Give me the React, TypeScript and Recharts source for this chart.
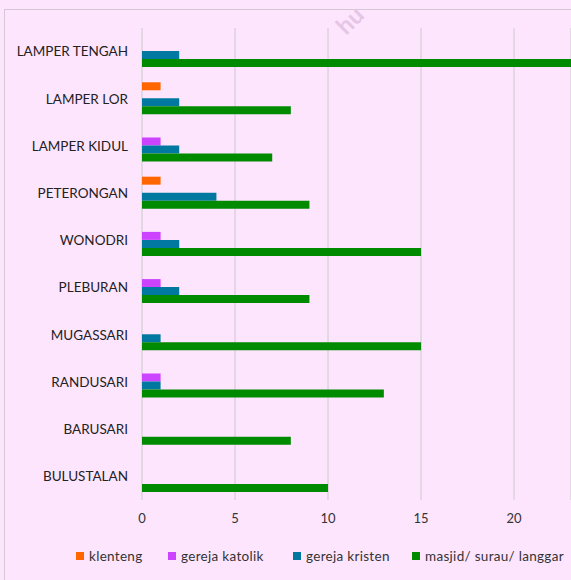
import { BarChart, Bar, XAxis, YAxis, CartesianGrid } from 'recharts';

const kelurahan = [
  'LAMPER TENGAH',
  'LAMPER LOR',
  'LAMPER KIDUL',
  'PETERONGAN ',
  'WONODRI',
  'PLEBURAN',
  'MUGASSARI',
  'RANDUSARI',
  'BARUSARI',
  'BULUSTALAN',
];
const klenteng = [0, 1, 0, 1, 0, 0, 0, 0, 0, 0];
const gerejaKatolik = [0, 0, 1, 0, 1, 1, 0, 1, 0, 0];
const gerejaKristen = [2, 2, 2, 4, 2, 2, 1, 1, 0, 0];
const masjid = [25, 8, 7, 9, 15, 9, 15, 13, 8, 10];
const xTicks = [0, 5, 10, 15, 20];

const series = [
  { key: 'klenteng', name: 'klenteng', color: '#ff6600', w: 92 },
  { key: 'katolik', name: 'gereja katolik', color: '#cc44ff', w: 125 },
  { key: 'kristen', name: 'gereja kristen', color: '#0078a0', w: 119 },
  { key: 'masjid', name: 'masjid/ surau/ langgar', color: '#008a00', w: 158 },
];

const data = kelurahan.map((name, i) => ({
  name,
  klenteng: klenteng[i],
  katolik: gerejaKatolik[i],
  kristen: gerejaKristen[i],
  masjid: masjid[i],
}));

const font = 'Lato, "Open Sans", sans-serif';

export default function App() {
  return (
    <div
      style={{
        position: 'fixed',
        left: 0,
        top: 0,
        width: 571,
        height: 580,
        background: '#fee5fe',
        overflow: 'hidden',
        fontFamily: font,
      }}
    >
      {/* chart area frame */}
      <div
        style={{
          position: 'absolute',
          left: 4,
          top: 9,
          width: 600,
          height: 600,
          borderLeft: '1px solid #d4c8d4',
          borderTop: '1px solid #d4c8d4',
        }}
      />
      {/* watermark fragment */}
      <div
        style={{
          position: 'absolute',
          left: 336,
          top: 8,
          fontSize: 24,
          fontWeight: 700,
          lineHeight: '24px',
          color: '#e6c6e6',
          transform: 'rotate(-45deg)',
        }}
      >
        hu
      </div>
      <div style={{ position: 'absolute', left: 0, top: 0 }}>
        <BarChart
          width={571}
          height={580}
          data={data}
          layout="vertical"
          margin={{ top: 28, right: 0, bottom: 50, left: 0 }}
          barCategoryGap="15%"
          barGap={0}
        >
          <CartesianGrid horizontal={false} stroke="#d6d0d6" strokeWidth={1.3} />
          <XAxis
            type="number"
            domain={[0, 23.06]}
            ticks={xTicks}
            allowDataOverflow
            axisLine={false}
            tickLine={false}
            tickSize={0}
            tickMargin={14}
            height={30}
            tick={{ fill: '#333', fontSize: 13, fontFamily: font }}
          />
          <YAxis
            type="category"
            dataKey="name"
            width={142}
            axisLine={false}
            tickLine={false}
            tickSize={0}
            tickMargin={14}
            tick={{ fill: '#222', fontSize: 13.5, fontFamily: font }}
          />
          {series.map((s) => (
            <Bar
              key={s.key}
              dataKey={s.key}
              name={s.name}
              fill={s.color}
              isAnimationActive={false}
            />
          ))}
        </BarChart>
      </div>
      <div
        style={{
          position: 'absolute',
          left: 76,
          top: 548,
          display: 'flex',
          fontSize: 13.5,
          letterSpacing: 0.3,
          color: '#333',
          whiteSpace: 'nowrap',
        }}
      >
        {series.map((s) => (
          <div
            key={s.key}
            style={{ display: 'flex', alignItems: 'center', gap: 5, width: s.w }}
          >
            <span style={{ width: 8, height: 8, background: s.color, display: 'inline-block' }} />
            <span>{s.name}</span>
          </div>
        ))}
      </div>
    </div>
  );
}
